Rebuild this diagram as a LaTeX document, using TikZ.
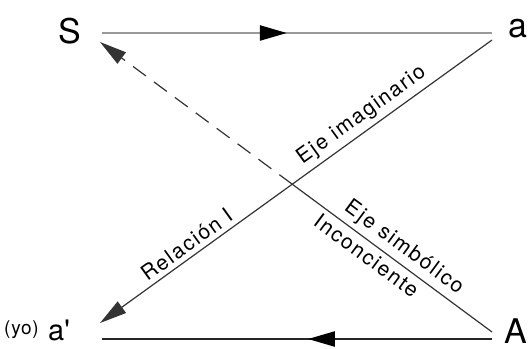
\documentclass[tikz,border=0pt]{standalone}
\usepackage{fontspec}
\setmainfont{TeX Gyre Heros}
\usetikzlibrary{arrows.meta,decorations.markings}
\begin{document}
\begin{tikzpicture}[x=1pt,y=-1pt,
  big/.style={inner sep=0pt, anchor=base west, font=\fontsize{34}{34}\selectfont},
  lab/.style={font=\fontsize{21}{21}\selectfont\addfontfeatures{LetterSpace=8}, sloped, inner sep=5pt},
  tipend/.style={-{Triangle[length=27pt,width=14pt]}},
  diag/.style={draw=black!80, line width=1.2pt},
  hline/.style={line width=2.4pt},
]
\useasboundingbox (0,0) rectangle (529,348);
% letters
\node[big] (S) at (58,43) {S};
\node[big] (a) at (508,37) {a};
\node[big] (A) at (504,343) {A};
\node[big, font=\fontsize{29}{29}\selectfont] (a2) at (48,340) {a\textquotesingle};
\node[inner sep=0pt, anchor=base west, font=\fontsize{19}{19}\selectfont\addfontfeatures{LetterSpace=4}] (yo) at (4,334) {(yo)};
% ports
\coordinate (Sa) at (102,33);
\coordinate (aS) at (492,33);
\coordinate (Aa2) at (492,339);
\coordinate (a2A) at (102,339);
\coordinate (aa2) at (492,40);
\coordinate (a2a) at (100,323);
\coordinate (AS) at (492,332);
\coordinate (SA) at (100,42);
\coordinate (X) at (intersection of aa2--a2a and AS--SA);
% horizontal lines
\draw[hline, draw=black!40, postaction={decorate},
  decoration={markings, mark=at position 0.474 with {\arrow[black]{Triangle[length=27pt,width=15pt]}}}]
  (Sa) -- (aS);
\draw[hline, draw=black!85, postaction={decorate},
  decoration={markings, mark=at position 0.472 with {\arrow[black]{Triangle[length=27pt,width=15pt]}}}]
  (Aa2) -- (a2A);
% diagonals
\draw[diag, tipend] (aa2) -- (a2a);
\draw[diag] (AS) -- (X);
\draw[diag, tipend, dash pattern=on 16pt off 10pt] (X) -- (SA);
% labels
\path (a2a) -- (aa2)
  node[lab, above, pos=0.69] {Eje imaginario}
  node[lab, above, pos=0.24] {Relación I};
\path (SA) -- (AS)
  node[lab, above, pos=0.752] {Eje simbólico}
  node[lab, below, pos=0.70] {Inconciente};
\end{tikzpicture}
\end{document}
